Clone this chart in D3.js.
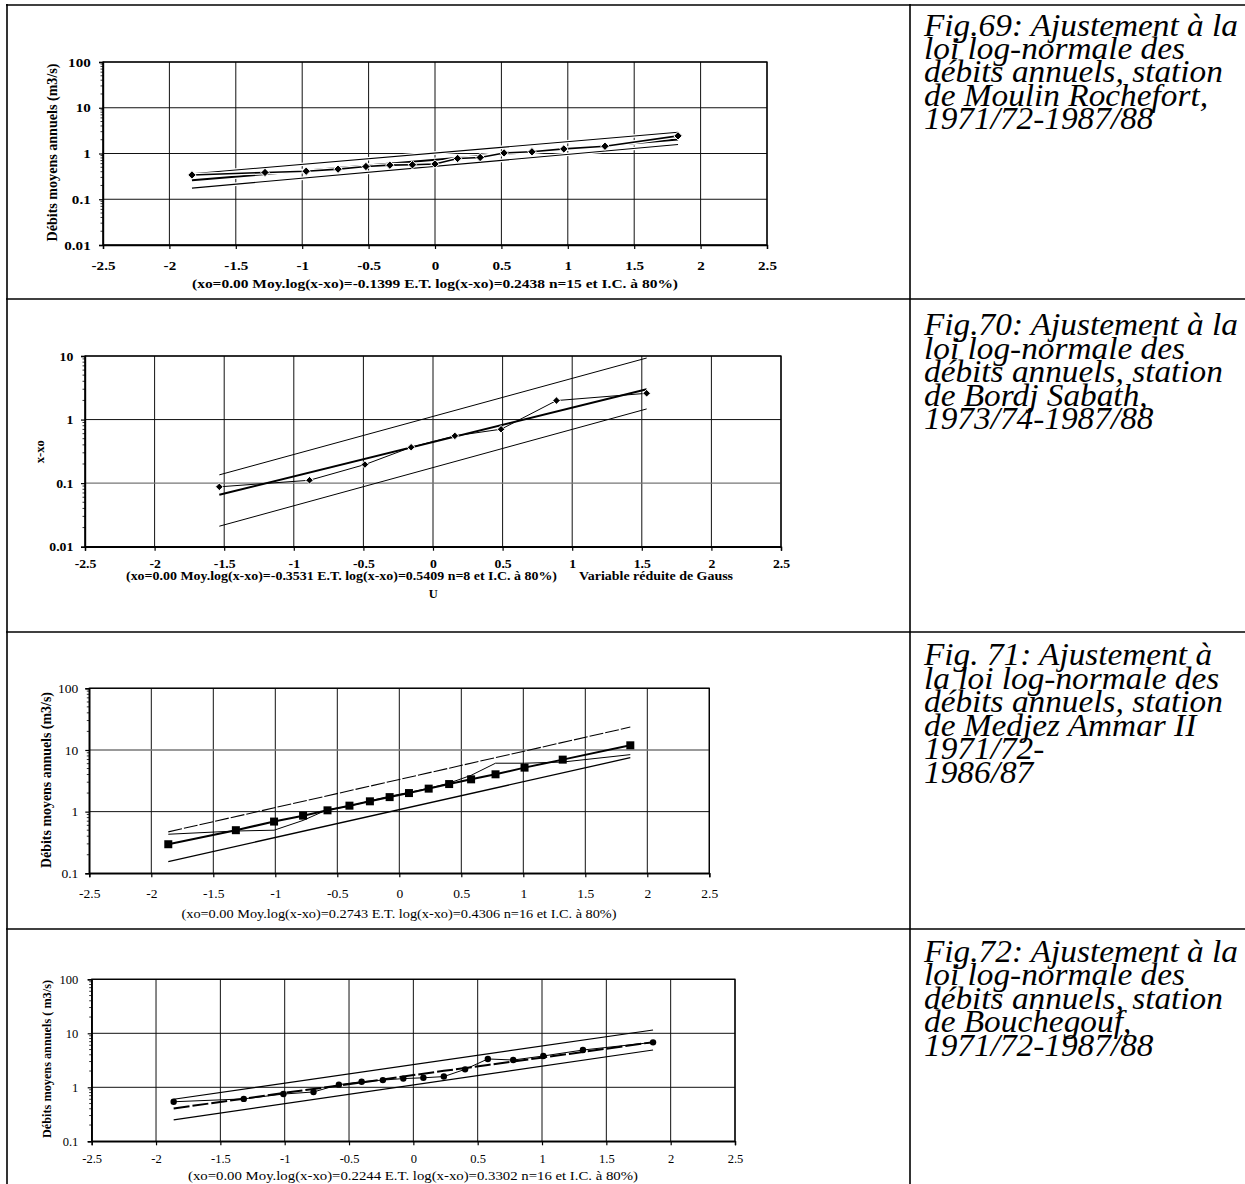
<!DOCTYPE html>
<html><head><meta charset="utf-8">
<script src="https://cdn.jsdelivr.net/npm/d3@7"></script>
<style>body{margin:0;background:#fff}svg{display:block}</style>
</head><body>
<svg id="c" width="1245" height="1184"></svg>
<script>
// ---------- shared ticks ----------
const xTicks = [-2.5,-2,-1.5,-1,-0.5,0,0.5,1,1.5,2,2.5];
const yTicks69 = [0.01,0.1,1,10,100];
const yTicks70 = [0.01,0.1,1,10];
const yTicks71 = [0.1,1,10,100];
const yTicks72 = [0.1,1,10,100];

// ---------- Fig.69 Moulin Rochefort ----------
const u69   = [-1.83,-1.28,-0.97,-0.73,-0.52,-0.34,-0.17,0,0.17,0.34,0.52,0.73,0.97,1.28,1.83];
const obs69 = [0.34,0.385,0.41,0.455,0.52,0.556,0.566,0.59,0.78,0.82,1.03,1.09,1.26,1.44,2.43];
const uEnds69 = [-1.83,1.83];
const fit69 = [0.26,2.02];
const up69  = [0.36,2.92];
const lo69  = [0.175,1.57];

// ---------- Fig.70 Bordj Sabath ----------
const u70   = [-1.535,-0.887,-0.489,-0.157,0.157,0.489,0.887,1.535];
const obs70 = [0.0875,0.111,0.196,0.367,0.554,0.705,1.99,2.59];
const uEnds70 = [-1.535,1.535];
const fit70 = [0.0656,3.0];
const up70  = [0.135,9.3];
const lo70  = [0.021,1.47];

// ---------- Fig.71 Medjez Ammar II ----------
const u16   = [-1.863,-1.318,-1.010,-0.776,-0.579,-0.402,-0.237,-0.078,0.078,0.237,0.402,0.579,0.776,1.010,1.318,1.863];
const fit71 = [0.296,0.50,0.69,0.86,1.05,1.25,1.47,1.72,2.0,2.36,2.8,3.34,4.03,5.17,6.97,11.9];
const obs71 = [0.43,0.485,0.50,0.72,1.08,1.22,1.5,1.78,2.05,2.4,2.9,3.88,6.1,6.1,6.37,8.4];
const uEnds16 = [-1.863,1.863];
const up71  = [0.47,23.5];
const lo71  = [0.155,7.5];

// ---------- Fig.72 Bouchegouf ----------
const fit72 = [0.406,0.615,0.783,0.931,1.08,1.23,1.40,1.58,1.79,2.02,2.27,2.59,3.00,3.58,4.51,6.86];
const obs72 = [0.54,0.61,0.75,0.82,1.12,1.27,1.36,1.45,1.50,1.58,2.15,3.35,3.2,3.8,4.9,6.8];
const up72  = [0.60,11.5];
const lo72  = [0.25,4.9];

// ---------- texts ----------
const cap69 = ["Fig.69: Ajustement à la","loi log-normale des","débits annuels, station","de Moulin Rochefort,","1971/72-1987/88"];
const cap70 = ["Fig.70: Ajustement à la","loi log-normale des","débits annuels, station","de Bordj Sabath,","1973/74-1987/88"];
const cap71 = ["Fig. 71: Ajustement à","la loi log-normale des","débits annuels, station","de Medjez Ammar II","1971/72-","1986/87"];
const cap72 = ["Fig.72: Ajustement à la","loi log-normale des","débits annuels, station","de Bouchegouf,","1971/72-1987/88"];
const xcap69 = "(xo=0.00 Moy.log(x-xo)=-0.1399 E.T. log(x-xo)=0.2438 n=15 et I.C. à 80%)";
const xcap70 = "(xo=0.00 Moy.log(x-xo)=-0.3531 E.T. log(x-xo)=0.5409 n=8 et I.C. à 80%)";
const xcap70b = "Variable réduite de Gauss";
const xcap70c = "U";
const xcap71 = "(xo=0.00 Moy.log(x-xo)=0.2743 E.T. log(x-xo)=0.4306 n=16 et I.C. à 80%)";
const xcap72 = "(xo=0.00 Moy.log(x-xo)=0.2244 E.T. log(x-xo)=0.3302 n=16 et I.C. à 80%)";
const ylab69 = "Débits moyens annuels (m3/s)";
const ylab70 = "x-xo";
const ylab71 = "Débits moyens annuels (m3/s)";
const ylab72 = "Débits moyens annuels ( m3/s)";

const FONT = "'Liberation Serif','Times New Roman',Times,serif";
const svg = d3.select("#c");

function stretch(sel, sx){
  sel.each(function(){
    const w = this.getComputedTextLength();
    d3.select(this).attr("textLength", w*sx).attr("lengthAdjust","spacingAndGlyphs");
  });
}
function setW(sel, w){ sel.attr("textLength", w).attr("lengthAdjust","spacingAndGlyphs"); }

// ---------- table ----------
const tbl = svg.append("g").attr("stroke","#000").attr("stroke-width",1.6);
[5,299,632,929].forEach(yy=>tbl.append("line").attr("x1",6).attr("x2",1245).attr("y1",yy).attr("y2",yy));
[7,910].forEach(xx=>tbl.append("line").attr("x1",xx).attr("x2",xx).attr("y1",4).attr("y2",1184));

// captions: one multi-line text block per figure
function caption(lines, x, y0, step){
  const g = svg.append("g").attr("transform",`translate(${x},0) scale(1.075,1)`);
  const t = g.append("text").attr("font-family",FONT).attr("font-style","italic")
    .attr("font-size",31).attr("fill","#000");
  t.selectAll("tspan").data(lines).join("tspan").attr("x",0).attr("y",(d,i)=>y0+i*step).text(d=>d);
}
caption(cap69, 924, 35.7, 23.3);
caption(cap70, 924, 335, 23.6);
caption(cap71, 924, 665, 23.6);
caption(cap72, 924, 962, 23.4);

// ---------- chart helper ----------
function chart(cfg){
  const {l,r,t,b} = cfg.box;
  const x = d3.scaleLinear().domain([-2.5,2.5]).range([l,r]);
  const y = d3.scaleLog().domain(cfg.yDomain).range([b,t]);
  const g = svg.append("g");
  // grid
  g.selectAll(null).data(xTicks).join("line")
    .attr("x1",d=>x(d)).attr("x2",d=>x(d)).attr("y1",t).attr("y2",b)
    .attr("stroke","#111").attr("stroke-width",1);
  g.selectAll(null).data(cfg.yTicks).join("line")
    .attr("x1",l).attr("x2",r).attr("y1",d=>y(d)).attr("y2",d=>y(d))
    .attr("stroke",d=>(cfg.greyY||[]).includes(d)?"#777":"#111").attr("stroke-width",d=>(cfg.greyY||[]).includes(d)?1.4:1);
  // minor ticks
  const minors = [];
  cfg.yTicks.slice(0,-1).forEach(dd=>{ for(let k=2;k<10;k++) minors.push(dd*k); });
  g.selectAll(null).data(minors).join("line")
    .attr("x1",l-2.5).attr("x2",l).attr("y1",d=>y(d)).attr("y2",d=>y(d))
    .attr("stroke","#000").attr("stroke-width",0.8);
  // axes
  const fs = cfg.fs;
  const ax = g.append("g").attr("transform",`translate(0,${b})`)
    .call(d3.axisBottom(x).tickValues(xTicks).tickFormat(d=>String(d)).tickSize(4).tickPadding(cfg.xPad));
  const ay = g.append("g").attr("transform",`translate(${l},0)`)
    .call(d3.axisLeft(y).tickValues(cfg.yTicks).tickFormat(d=>String(d)).tickSize(4).tickPadding(cfg.yPad));
  [ax,ay].forEach(a=>{
    a.attr("font-family",FONT).attr("font-size",fs).attr("font-weight",cfg.bold?"bold":"normal");
    a.selectAll(".tick line").attr("stroke","#000").attr("stroke-width",1.2);
    a.selectAll("text").attr("fill","#000");
    a.select(".domain").attr("stroke","#000").attr("stroke-width",1.4);
    stretch(a.selectAll("text"), cfg.sx);
  });
  // frame
  g.append("rect").attr("x",l).attr("y",t).attr("width",r-l).attr("height",b-t)
    .attr("fill","none").attr("stroke",cfg.frameColor||"#000").attr("stroke-width",1.3);
  // series
  const plot = g.append("g");
  cfg.series.forEach(s=>{
    const pts = s.u.map((u,i)=>[u,s.v[i]]);
    const line = d3.line().x(d=>x(d[0])).y(d=>y(d[1]));
    if(s.halo) plot.append("path").attr("d",line(pts)).attr("fill","none").attr("stroke","#fff").attr("stroke-width",s.w+2.5);
    plot.append("path").attr("d",line(pts)).attr("fill","none").attr("stroke","#000")
      .attr("stroke-width",s.w).attr("stroke-dasharray",s.dash||null).attr("stroke-linejoin","round");
    if(s.marker){
      const m = s.marker, sz = s.size;
      const sel = plot.selectAll(null).data(pts).join(m==="circle"?"circle":"path");
      if(m==="circle") sel.attr("cx",d=>x(d[0])).attr("cy",d=>y(d[1])).attr("r",sz);
      else if(m==="diamond") sel.attr("d",d=>`M${x(d[0])},${y(d[1])-sz}L${x(d[0])+sz},${y(d[1])}L${x(d[0])},${y(d[1])+sz}L${x(d[0])-sz},${y(d[1])}Z`);
      else sel.attr("d",d=>`M${x(d[0])-sz},${y(d[1])-sz}h${2*sz}v${2*sz}h${-2*sz}Z`);
      sel.attr("fill","#000").attr("stroke",s.mstroke||"none").attr("stroke-width",1);
    }
  });
  // x caption(s)
  cfg.xcaps.forEach(c=>{
    const tt = g.append("text").attr("x",c.x).attr("y",c.y).attr("text-anchor","middle")
      .attr("font-family",FONT).attr("font-size",c.fs).attr("font-weight",c.bold?"bold":"normal").text(c.text);
    if(c.w) setW(tt,c.w);
  });
  // y label
  const yl = g.append("text").attr("transform",`translate(${cfg.ylab.x},${cfg.ylab.y}) rotate(-90)`)
    .attr("text-anchor","middle").attr("dominant-baseline","central")
    .attr("font-family",FONT).attr("font-size",cfg.ylab.fs).attr("font-weight","bold").text(cfg.ylab.text);
  if(cfg.ylab.w) setW(yl,cfg.ylab.w);
}

// Fig.69
chart({
  box:{l:103,r:767,t:62,b:245}, yDomain:[0.01,100], yTicks:yTicks69,
  fs:13, bold:true, sx:1.16, xPad:11.6, yPad:8.3,
  series:[
    {u:uEnds69, v:up69, w:1.1, halo:true},
    {u:uEnds69, v:lo69, w:1.1, halo:true},
    {u:uEnds69, v:fit69, w:2, halo:true},
    {u:u69, v:obs69, w:1.6, halo:true, marker:"diamond", size:4.2, mstroke:"#fff"}
  ],
  xcaps:[{text:xcap69, x:435, y:287.5, fs:12.5, bold:true, w:486}],
  ylab:{text:ylab69, x:52, y:152.5, fs:14, w:178}
});

// Fig.70
chart({
  box:{l:85,r:781,t:356,b:546.7}, yDomain:[0.01,10], yTicks:yTicks70, greyY:[0.1],
  fs:12.5, bold:true, sx:1.1, xPad:8.2, yPad:7.7,
  series:[
    {u:uEnds70, v:up70, w:1},
    {u:uEnds70, v:lo70, w:1},
    {u:uEnds70, v:fit70, w:2},
    {u:u70, v:obs70, w:1, marker:"diamond", size:3.8, mstroke:"#fff"}
  ],
  xcaps:[
    {text:xcap70, x:341.5, y:579.5, fs:12.5, bold:true, w:431},
    {text:xcap70b, x:656, y:579.5, fs:12.5, bold:true, w:154},
    {text:xcap70c, x:433.3, y:597.5, fs:12.5, bold:true}
  ],
  ylab:{text:ylab70, x:40, y:451.7, fs:12.5, w:23}
});

// Fig.71
chart({
  box:{l:89.3,r:709.3,t:688.3,b:873.3}, yDomain:[0.1,100], yTicks:yTicks71, greyY:[10,100],
  fs:13, bold:false, sx:1.04, xPad:11.5, yPad:7,
  series:[
    {u:uEnds16, v:up71, w:1.1, dash:"14,2"},
    {u:uEnds16, v:lo71, w:1.3},
    {u:u16, v:obs71, w:1},
    {u:u16, v:fit71, w:2, marker:"square", size:4}
  ],
  xcaps:[{text:xcap71, x:399, y:918, fs:12.5, bold:false, w:435}],
  ylab:{text:ylab71, x:46.7, y:780, fs:14, w:176}
});

// Fig.72
chart({
  box:{l:91.7,r:735,t:979.3,b:1141.3}, yDomain:[0.1,100], yTicks:yTicks72,
  fs:12.5, bold:false, sx:1.0, xPad:8.8, yPad:9.4,
  series:[
    {u:uEnds16, v:up72, w:1.2},
    {u:uEnds16, v:lo72, w:1.2},
    {u:u16, v:fit72, w:2, dash:"16,3"},
    {u:u16, v:obs72, w:1, marker:"circle", size:3.2}
  ],
  xcaps:[{text:xcap72, x:413, y:1180, fs:12.5, bold:false, w:450}],
  ylab:{text:ylab72, x:46.7, y:1059, fs:13, w:158}
});
</script>
</body></html>
